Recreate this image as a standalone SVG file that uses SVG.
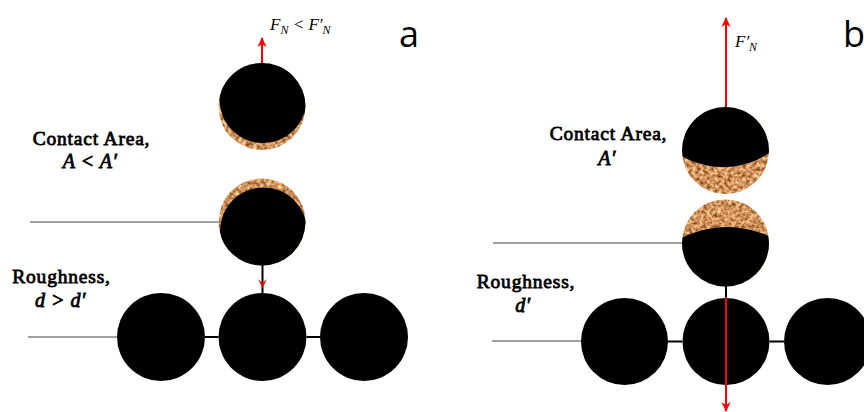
<svg xmlns="http://www.w3.org/2000/svg" width="864" height="412" viewBox="0 0 864 412">
  <style>
    .label { font-family: "Liberation Serif", "Times New Roman", serif; font-size: 19.5px; letter-spacing: 0.8px; fill: #000; stroke: #000; stroke-width: 0.8px; }
    .math { font-family: "Liberation Serif", "Times New Roman", serif; font-style: italic; font-size: 20px; letter-spacing: 0.5px; fill: #000; stroke: #000; stroke-width: 0.8px; }
    .force { font-family: "Liberation Serif", "Times New Roman", serif; font-style: italic; font-size: 17px; fill: #000; }
    .sub { font-size: 12px; }
    .panel { font-family: "Open Sans", "Liberation Sans", sans-serif; font-size: 36px; fill: #000; }
    .ball { fill: #000; }
    .guide { stroke: #808080; stroke-width: 1.3; fill: none; }
    .link { stroke: #000; stroke-width: 2; fill: none; }
    .pull { stroke: #ff0000; stroke-width: 2; fill: none; }
  </style>
  <defs>
    <!-- cork-like speckled coating -->
    <filter id="cork" x="0" y="0" width="1" height="1" color-interpolation-filters="sRGB">
      <feTurbulence type="fractalNoise" baseFrequency="0.28" numOctaves="3" seed="7" result="noise"/>
      <feColorMatrix in="noise" type="matrix" values="0.95 0 0 0 0.34  1.0 0 0 0 0.08  0.9 0 0 0 -0.08  0 0 0 0 1" result="tone"/>
      <feComposite in="tone" in2="SourceGraphic" operator="in"/>
    </filter>
    <marker id="head" markerWidth="10" markerHeight="10" refX="9" refY="5" orient="auto" markerUnits="userSpaceOnUse">
      <path d="M0,0.5 L10,5 L0,9.5 L3,5 z" fill="#ff0000"/>
    </marker>
    <clipPath id="clipA1"><circle cx="262" cy="106.5" r="43.5"/></clipPath>
    <clipPath id="clipA2"><circle cx="262" cy="222" r="43.5"/></clipPath>
    <clipPath id="clipB1"><circle cx="725.5" cy="150.5" r="43.5"/></clipPath>
    <clipPath id="clipB2"><circle cx="725.5" cy="243" r="43.5"/></clipPath>
  </defs>

  <rect width="864" height="412" fill="#fff"/>

  <!-- panel a -->
  <g id="a-probe-top" clip-path="url(#clipA1)">
    <rect x="217" y="62" width="90" height="90" fill="#000" filter="url(#cork)"/>
    <circle class="ball" cx="263" cy="99.5" r="43.5"/>
  </g>
  <g id="a-probe-bottom" clip-path="url(#clipA2)">
    <rect x="217" y="177" width="90" height="90" fill="#000" filter="url(#cork)"/>
    <circle class="ball" cx="263.5" cy="231" r="43.5"/>
  </g>
  <g id="a-base-left"><circle class="ball" cx="161" cy="337" r="44"/></g>
  <g id="a-base-mid"><circle class="ball" cx="262.5" cy="337" r="44"/></g>
  <g id="a-base-right"><circle class="ball" cx="364" cy="337" r="44"/></g>

  <!-- panel b -->
  <g id="b-probe-top" clip-path="url(#clipB1)">
    <rect x="680" y="105" width="92" height="92" fill="#000" filter="url(#cork)"/>
    <circle class="ball" cx="723" cy="84" r="83"/>
  </g>
  <g id="b-probe-bottom" clip-path="url(#clipB2)">
    <rect x="680" y="198" width="92" height="92" fill="#000" filter="url(#cork)"/>
    <circle class="ball" cx="727" cy="327" r="100"/>
  </g>
  <g id="b-base-left"><circle class="ball" cx="624.5" cy="341.5" r="43.5"/></g>
  <g id="b-base-mid"><circle class="ball" cx="726" cy="341.5" r="43.5"/></g>
  <g id="b-base-right"><circle class="ball" cx="827.5" cy="341.5" r="43.5"/></g>

  <g id="connectors">
    <!-- panel a -->
    <line class="guide" x1="30" y1="222" x2="218.5" y2="222"/>
    <line class="guide" x1="28" y1="337" x2="117" y2="337"/>
    <line class="link" x1="205" y1="337" x2="218.5" y2="337"/>
    <line class="link" x1="306.5" y1="337" x2="320" y2="337"/>
    <line class="link" x1="262.5" y1="265" x2="262.5" y2="293.5"/>
    <path d="M258,279 L262.5,288 L267,279 L262.5,283 z" fill="#ff0000"/>
    <line class="pull" x1="262" y1="63" x2="262" y2="38" marker-end="url(#head)"/>
    <!-- panel b -->
    <line class="guide" x1="493" y1="243" x2="682" y2="243"/>
    <line class="guide" x1="492" y1="341" x2="581" y2="341"/>
    <line class="link" x1="668" y1="341.5" x2="682.5" y2="341.5"/>
    <line class="link" x1="769.5" y1="341.5" x2="784" y2="341.5"/>
    <line class="link" x1="726" y1="286" x2="726" y2="298"/>
    <line class="pull" x1="726" y1="107" x2="726" y2="18" marker-end="url(#head)"/>
    <line class="pull" x1="726" y1="297" x2="726" y2="411" marker-end="url(#head)"/>
  </g>

  <!-- labels -->
  <text class="force" x="270" y="30">F<tspan class="sub" dy="4">N</tspan><tspan dy="-4"> &lt; F′</tspan><tspan class="sub" dy="4">N</tspan></text>
  <text class="panel" x="399" y="47">a</text>
  <text class="label" x="91.5" y="145" text-anchor="middle">Contact Area,</text>
  <text class="math" x="90" y="168" text-anchor="middle">A &lt; A′</text>
  <text class="label" x="61.5" y="283" text-anchor="middle">Roughness,</text>
  <text class="math" x="60.5" y="307" text-anchor="middle">d &gt; d′</text>

  <text class="force" x="735" y="47">F′<tspan class="sub" dy="4">N</tspan></text>
  <text class="panel" x="843" y="47">b</text>
  <text class="label" x="608.5" y="140" text-anchor="middle">Contact Area,</text>
  <text class="math" x="607" y="165" text-anchor="middle">A′</text>
  <text class="label" x="526" y="288" text-anchor="middle">Roughness,</text>
  <text class="math" x="523" y="312" text-anchor="middle">d′</text>
</svg>
